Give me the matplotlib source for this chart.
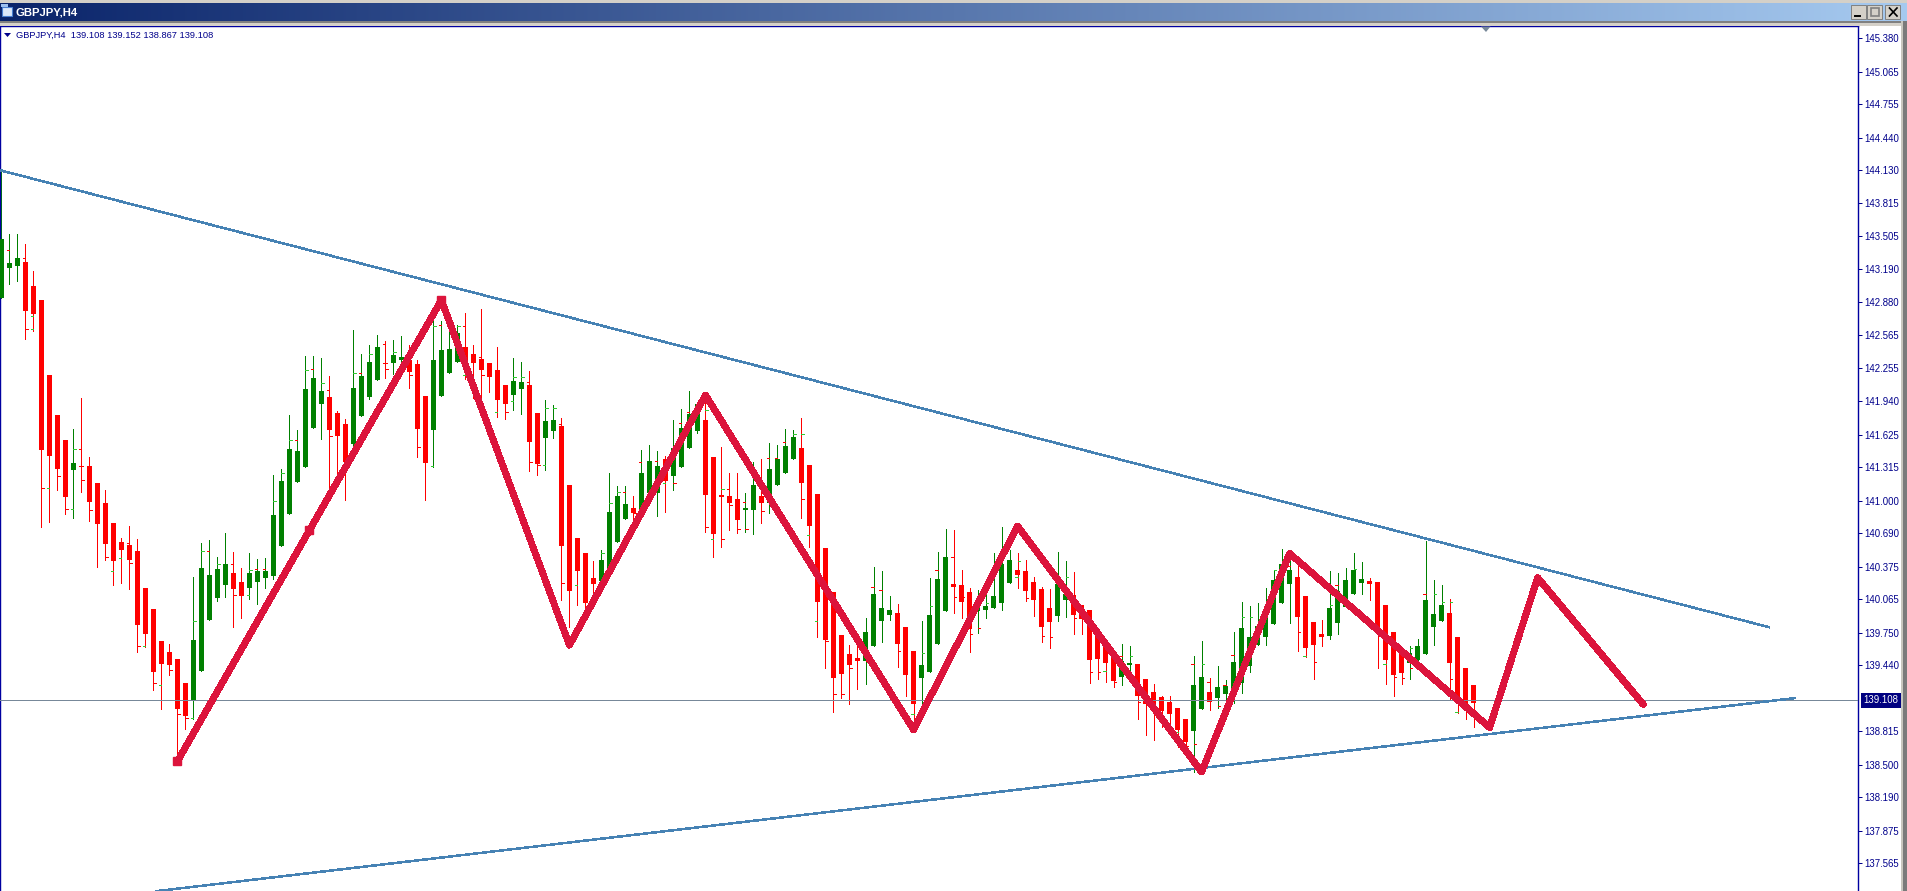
import numpy as np
import matplotlib
matplotlib.use('Agg')
import matplotlib.pyplot as plt
from matplotlib.patches import Rectangle

# GBPJPY H4 candles
dirs = ("gggrrrrrrg" "rrrrrrrrrr" "rrrrgggggr" "rggggggggg" "grrrggggrg"
        "grrrggggrr" "rrrrggrrgg" "rrrrrggggr" "gggrggggrr" "rrrggrgggg"
        "rrrrrrrrgg" "ggrrrggggr" "rrgggggrrr" "rrggrrrrrr" "ggrrrrrrrg"
        "grgggggggg" "ggrrrrgggg" "grrrrrgggg" "grrrr")
highs = [144.13,143.53,143.53,143.43,143.18,142.90,142.19,141.81,141.57,141.68,
         141.97,141.41,141.17,141.10,140.79,140.65,140.76,140.64,140.17,139.97,
         139.67,139.64,139.50,139.27,140.28,140.60,140.63,140.47,140.69,140.51,
         140.36,140.50,140.45,140.46,141.24,141.30,141.81,141.67,142.37,142.37,
         142.35,142.18,141.85,141.77,142.62,142.39,142.47,142.57,142.51,142.52,
         142.56,142.47,142.33,141.99,142.71,142.70,142.71,142.66,142.78,142.47,
         142.82,142.30,142.46,142.10,142.35,142.31,142.23,141.83,141.95,141.91,
         141.78,141.15,140.65,140.50,140.43,140.53,141.26,141.14,141.14,141.04,
         141.48,141.53,141.47,141.42,141.76,141.87,142.04,141.93,142.00,141.41,
         141.51,141.26,141.26,141.07,141.37,141.39,141.55,141.53,141.68,141.67,
         141.78,141.34,141.06,140.55,140.13,139.73,139.63,139.65,139.89,140.37,
         140.33,140.10,140.02,139.80,139.58,139.86,140.27,140.51,140.73,140.72,
         140.34,140.17,140.15,140.11,140.50,140.75,140.53,140.50,140.44,140.28,
         140.18,140.16,140.51,140.43,140.32,140.01,139.96,139.75,139.62,139.54,
         139.64,139.62,139.45,139.31,139.26,139.15,139.15,139.04,138.93,139.53,
         139.67,139.32,139.43,139.30,139.76,140.04,140.00,140.03,140.17,140.34,
         140.54,140.49,140.39,140.10,139.85,139.87,140.33,140.31,140.36,140.50,
         140.42,140.27,140.23,140.01,139.76,139.59,139.62,139.69,140.62,140.25,
         140.20,140.07,139.71,139.41,139.25]
body_tops = [143.48,143.25,143.30,143.26,143.03,142.90,142.19,141.81,141.57,141.36,
             141.33,141.33,141.17,140.98,140.79,140.61,140.58,140.52,140.17,139.97,
             139.67,139.57,139.50,139.27,139.68,140.36,140.30,140.35,140.40,140.31,
             140.23,140.31,140.33,140.33,140.86,141.19,141.49,141.47,142.06,142.16,
             142.04,141.98,141.83,141.73,142.07,142.18,142.31,142.46,142.30,142.38,
             142.36,142.33,142.29,141.99,142.33,142.43,142.44,142.59,142.46,142.39,
             142.34,142.30,142.24,142.10,142.13,142.12,142.10,141.83,141.75,141.76,
             141.71,141.15,140.65,140.50,140.27,140.44,140.89,141.04,140.97,140.93,
             141.26,141.38,141.33,141.39,141.50,141.69,141.82,141.92,141.76,141.41,
             141.05,141.04,141.02,140.93,141.15,141.04,141.30,141.39,141.52,141.60,
             141.50,141.34,141.06,140.55,140.13,139.73,139.55,139.51,139.76,140.12,
             139.98,139.96,139.94,139.80,139.58,139.44,139.92,140.26,140.47,140.21,
             140.20,140.13,140.06,140.00,140.10,140.40,140.44,140.34,140.33,140.23,
             140.16,139.98,140.21,140.12,140.11,140.01,139.96,139.75,139.62,139.54,
             139.48,139.46,139.45,139.31,139.19,139.14,139.09,139.04,138.93,139.25,
             139.33,139.19,139.23,139.24,139.47,139.79,139.71,139.81,139.96,140.25,
             140.40,140.34,140.28,140.10,139.85,139.74,139.98,140.14,140.25,140.34,
             140.26,140.24,140.23,140.01,139.76,139.59,139.56,139.62,140.06,139.93,
             140.01,139.94,139.71,139.41,139.25]
body_bots = [142.92,143.20,143.22,142.80,142.77,141.48,141.42,141.30,141.03,141.29,
             141.32,140.99,140.78,140.59,140.43,140.53,140.44,139.82,139.74,139.38,
             139.45,139.44,139.03,138.96,139.11,139.39,139.87,140.08,140.20,140.16,
             140.10,140.17,140.23,140.27,140.29,140.57,140.87,141.18,141.32,141.69,
             141.92,141.67,141.61,141.37,141.54,141.80,141.98,142.14,142.29,142.30,
             142.33,142.22,141.68,141.36,141.67,141.99,142.21,142.31,142.24,142.30,
             142.24,142.17,141.95,141.92,142.00,142.06,141.56,141.35,141.59,141.66,
             140.57,140.14,140.33,140.03,140.21,140.24,140.30,140.61,140.83,140.88,
             140.88,141.07,141.07,141.19,141.23,141.32,141.50,141.66,141.05,140.68,
             141.03,140.98,140.82,140.91,140.91,140.98,140.98,141.15,141.26,141.39,
             141.17,140.76,140.04,139.68,139.32,139.36,139.44,139.48,139.48,139.62,
             139.86,139.92,139.64,139.35,139.07,139.32,139.38,139.64,139.95,140.18,
             140.04,139.78,139.95,139.96,139.98,140.03,140.22,140.30,140.14,140.06,
             139.80,139.85,139.91,140.06,139.92,139.88,139.49,139.50,139.46,139.29,
             139.33,139.44,139.15,139.07,139.01,139.01,138.98,138.83,138.71,138.82,
             139.03,139.09,139.13,139.17,139.21,139.27,139.43,139.63,139.71,139.83,
             140.03,140.21,139.90,139.60,139.63,139.71,139.72,139.84,139.99,140.12,
             140.22,140.21,139.78,139.49,139.35,139.37,139.46,139.49,139.55,139.80,
             139.86,139.46,139.08,139.07,139.08]
lows = [142.92,143.05,143.08,142.53,142.61,140.75,140.80,141.10,140.87,140.84,
        141.08,140.81,140.37,140.44,140.20,140.22,140.16,139.57,139.61,139.21,
        139.03,139.35,138.55,138.84,138.93,139.39,139.87,140.05,140.09,139.80,
        139.89,140.07,140.02,140.17,140.26,140.57,140.87,141.18,141.32,141.69,
        141.58,141.13,141.26,141.01,141.48,141.80,141.96,142.14,142.16,142.20,
        142.29,142.07,141.41,141.01,141.32,141.99,142.21,142.31,142.15,141.97,
        141.95,142.03,141.79,141.77,141.86,141.82,141.28,141.24,141.29,141.59,
        140.06,139.80,140.01,139.93,140.06,140.24,140.30,140.61,140.83,140.81,
        140.88,141.07,140.85,140.89,141.10,141.32,141.50,141.64,140.70,140.47,
        140.56,140.72,140.69,140.70,140.68,140.79,140.88,141.15,141.26,141.39,
        140.84,140.56,139.71,139.41,139.00,139.13,139.07,139.22,139.26,139.62,
        139.66,139.87,139.42,139.15,138.86,139.00,139.38,139.64,139.95,139.94,
        139.89,139.57,139.75,139.89,139.98,139.96,140.22,140.17,140.05,139.91,
        139.66,139.60,139.86,139.90,139.74,139.74,139.27,139.31,139.28,139.23,
        139.25,139.38,138.93,138.78,138.73,138.86,138.86,138.67,138.58,138.43,
        139.03,139.02,139.04,139.09,139.08,139.18,139.38,139.63,139.63,139.83,
        140.03,139.84,139.58,139.52,139.31,139.62,139.69,139.74,139.99,140.12,
        140.12,140.06,139.41,139.26,139.15,139.26,139.31,139.49,139.55,139.63,
        139.86,139.11,138.99,138.93,138.86]

# small open/close ticks next to the wicks
tick_bars = [1,3,3,4,4,5,6,7,8,9,9,10,10,11,13,14,15,16,16,17,18,19,20,21,22,23,24,24,
             25,26,27,29,29,31,31,32,33,34,35,36,37,38,39,40,41,41,44,45,46,48,48,49,
             51,52,54,54,55,57,58,58,60,60,62,63,64,64,65,66,66,67,68,68,69,70,70,72,
             75,76,77,78,79,79,80,82,83,83,84,85,86,88,88,89,90,90,91,91,92,93,93,95,
             96,97,98,99,100,100,101,102,103,104,105,106,107,108,109,110,112,113,114,
             115,116,117,119,119,120,121,122,123,127,127,128,130,131,132,133,134,136,
             137,138,139,140,141,142,147,148,149,149,150,151,152,153,154,155,156,159,
             161,162,163,164,166,167,169,173,174,175,176,176,178,179,180,181,181,182,183]
tick_prices = [143.37,143.30,142.63,142.75,142.63,141.12,141.12,141.23,140.92,141.49,140.92,
               141.49,141.20,140.91,140.47,140.33,140.46,140.60,140.41,139.62,139.62,139.27,
               139.25,139.40,138.98,138.94,139.86,138.94,140.52,140.52,140.40,140.40,140.11,
               140.34,140.11,140.35,140.35,141.00,141.26,141.57,141.57,142.24,142.25,142.11,
               142.05,141.61,142.21,142.21,142.39,142.48,142.25,142.41,142.19,141.51,142.65,
               141.33,142.66,142.65,142.65,142.19,142.36,142.19,141.84,141.84,142.17,141.94,
               142.17,142.12,141.37,141.34,141.88,141.34,141.88,141.73,140.22,140.20,140.50,
               140.98,141.08,141.08,140.93,140.88,141.37,141.38,141.38,141.17,141.17,141.74,
               141.84,141.86,140.75,140.64,141.11,140.64,141.11,140.96,140.73,140.99,140.73,
               140.90,141.40,141.40,141.56,141.63,141.63,141.02,140.67,139.86,139.67,139.17,
               139.17,139.41,139.50,139.48,140.18,140.15,139.58,139.58,138.98,139.56,140.00,
               140.34,140.47,140.09,140.09,139.74,139.79,140.03,140.43,140.28,140.08,139.72,
               139.71,140.28,140.28,139.89,139.38,139.38,139.39,139.28,139.53,139.53,139.09,
               138.81,138.68,139.45,138.69,139.45,139.28,139.05,139.25,139.54,139.90,139.90,
               140.34,140.38,139.76,139.53,139.47,140.01,140.20,140.35,139.45,139.33,139.32,
               139.60,139.41,140.12,140.12,140.04,140.04,139.31,139.00,139.00]
tick_dirs = ("rrrggrgrrggrrrrggrrrgrgrrrgg"
             "grgrrggrrgggrgrgrrgrgrrg"
             "rrggrgrgrrgrgggrrrgggrrg"
             "gggrrrrrggrrrg"
             "rggrrrrrrrrrrg"
             "grggrrrrrrrrrrg"
             "ggrrrrrrgggrrrrgrrrgrrg"
             "rgrrrgrrrrg"
             "ggrrgrgrggrrg"
             "rrgggrgrgggrgrrrg")

# zigzag drawn by hand on the chart (x in bars)
zig_x = [22, 38.5, 55, 71, 88, 114, 127, 150, 161, 186, 192, 205.2]
zig_y = [138.53, 140.72, 142.90, 139.63, 142.00, 138.83, 140.76, 138.43, 140.50, 138.85, 140.27, 139.07]
square_x = [22, 38.5, 55]
square_y = [138.53, 140.72, 142.90]

upper_x = [-0.17, 221]
upper_y = [144.13, 139.80]
lower_x = [19.3, 224.2]
lower_y = [137.30, 139.13]
last_price = 139.108

price_ticks = [145.380,145.065,144.755,144.440,144.130,143.815,143.505,143.190,142.880,142.565,
               142.255,141.940,141.625,141.315,141.000,140.690,140.375,140.065,139.750,139.440,
               138.815,138.500,138.190,137.875,137.565]
tick_labels = ['%.3f' % v for v in price_ticks]
header = 'GBPJPY,H4  139.108 139.152 138.867 139.108'
title = 'GBPJPY,H4'

W, H = 1908, 891
NAVY = '#00008B'
px = 72.0 / 100  # one pixel in points

fig = plt.figure(figsize=(W / 100, H / 100), dpi=100, facecolor='white')

# window frame, in pixels
chrome = fig.add_axes([0, 0, 1, 1], zorder=0)
chrome.set_xlim(0, W)
chrome.set_ylim(H, 0)
chrome.axis('off')
chrome.add_patch(Rectangle((0, 0), W, 3, color='#D4D0C8', lw=0))
grad = np.linspace(0, 1, 512).reshape(1, -1)
start = np.array([0x0A, 0x24, 0x6A]) / 255
stop = np.array([0xA6, 0xCA, 0xF0]) / 255
img = (start[None, None, :] * (1 - grad[..., None]) + stop[None, None, :] * grad[..., None])
chrome.imshow(img, extent=(0, W, 21, 3), aspect='auto', interpolation='bilinear')
chrome.set_xlim(0, W)
chrome.set_ylim(H, 0)
chrome.add_patch(Rectangle((0, 21), W, 2, color='#808080', lw=0))
chrome.add_patch(Rectangle((0, 23), W, 3, color='#D4D0C8', lw=0))
chrome.add_patch(Rectangle((1901.5, 21), 2, H, color='#C8C6BE', lw=0))
chrome.add_patch(Rectangle((1903.5, 21), 4.5, H, color='#7A7A7A', lw=0))
for bx in [1851, 1867.5, 1885.5]:
    chrome.add_patch(Rectangle((bx, 5), 15, 14, facecolor='#D4D0C8', edgecolor='#808080', lw=0.7))
chrome.plot([1855, 1860], [15.5, 15.5], color='black', lw=1.4)
chrome.add_patch(Rectangle((1871, 8), 8, 8, fill=False, edgecolor='#808080', lw=1.2))
chrome.plot([1889.5, 1897], [8, 16], color='black', lw=1.2)
chrome.plot([1889.5, 1897], [16, 8], color='black', lw=1.2)
chrome.add_patch(Rectangle((2, 7), 10, 9, facecolor='#DCE8FA', edgecolor='#4A7FD0', lw=0.8))
chrome.add_patch(Rectangle((1, 4), 7, 3, facecolor='#9CC0F0', edgecolor='none'))
chrome.text(16, 12.5, title, color='white', fontsize=8.2, fontweight='bold',
            family='Liberation Sans', va='center', ha='left')

# price chart
ax = fig.add_axes([0, 0, 1858.5 / W, (H - 26) / H], zorder=1)
ax.set_facecolor('white')
ax.set_xlim(-0.166, 232.1)
ax.set_ylim(137.302, 145.4965)

x = np.arange(len(highs))
colors = ['#008000' if d == 'g' else '#FF0000' for d in dirs]
ax.vlines(x, lows, highs, colors=colors, lw=1 * px, antialiased=False, zorder=2)
ax.bar(x, np.array(body_tops) - np.array(body_bots), bottom=body_bots, width=5 / 8,
       color=colors, linewidth=0, antialiased=False, zorder=3)

mids = (np.array(body_tops) + np.array(body_bots)) / 2
for b, p, d in zip(tick_bars, tick_prices, tick_dirs):
    above = p > mids[b]
    left = above if d == 'r' else not above
    x0, x1 = (b - 0.35, b) if left else (b, b + 0.35)
    ax.hlines(p, x0, x1, colors='#32CD32' if d == 'g' else '#FF0000', lw=1 * px,
              antialiased=False, zorder=2)

ax.axhline(last_price, color='#778899', lw=1 * px, zorder=4, antialiased=False)
ax.plot(upper_x, upper_y, color='#4682B4', lw=1.5 * px, zorder=5, solid_capstyle='butt', antialiased=False)
ax.plot(lower_x, lower_y, color='#4682B4', lw=1.5 * px, zorder=5, solid_capstyle='butt', antialiased=False)
ax.plot(zig_x, zig_y, color='#DC143C', lw=4.2, zorder=6, solid_joinstyle='round',
        solid_capstyle='round', antialiased=False)
ax.plot(square_x, square_y, ls='none', marker='s', ms=6, color='#DC143C', zorder=6, antialiased=False)

for s in ['left', 'right', 'top']:
    ax.spines[s].set_color('#0000A0')
    ax.spines[s].set_linewidth(1.4 * px)
ax.spines['bottom'].set_visible(False)
ax.set_xticks([])
ax.yaxis.tick_right()
ax.set_yticks(price_ticks)
ax.set_yticklabels(tick_labels, fontsize=6.9, color=NAVY, family='Liberation Sans')
ax.tick_params(axis='y', length=3, width=1 * px, color=NAVY, pad=1.5)

ax.annotate('%.3f' % last_price, xy=(1, last_price), xycoords=('axes fraction', 'data'),
            xytext=(3.8, 0), textcoords='offset points', fontsize=6.9, color='white',
            family='Liberation Sans', va='center', ha='left', zorder=10,
            bbox=dict(boxstyle='square,pad=0.25', fc='#000080', ec='none'))

chrome.set_zorder(2)
chrome.patch.set_alpha(0)
chrome.text(16, 35, header, color=NAVY, fontsize=6.7, family='Liberation Sans',
            va='center', ha='left')
chrome.fill([4, 11, 7.5], [33, 33, 37], color=NAVY, lw=0)
chrome.fill([1481, 1490.5, 1486], [26.5, 26.5, 32], color='#778899', lw=0)

fig.savefig('out.png', dpi=100)
